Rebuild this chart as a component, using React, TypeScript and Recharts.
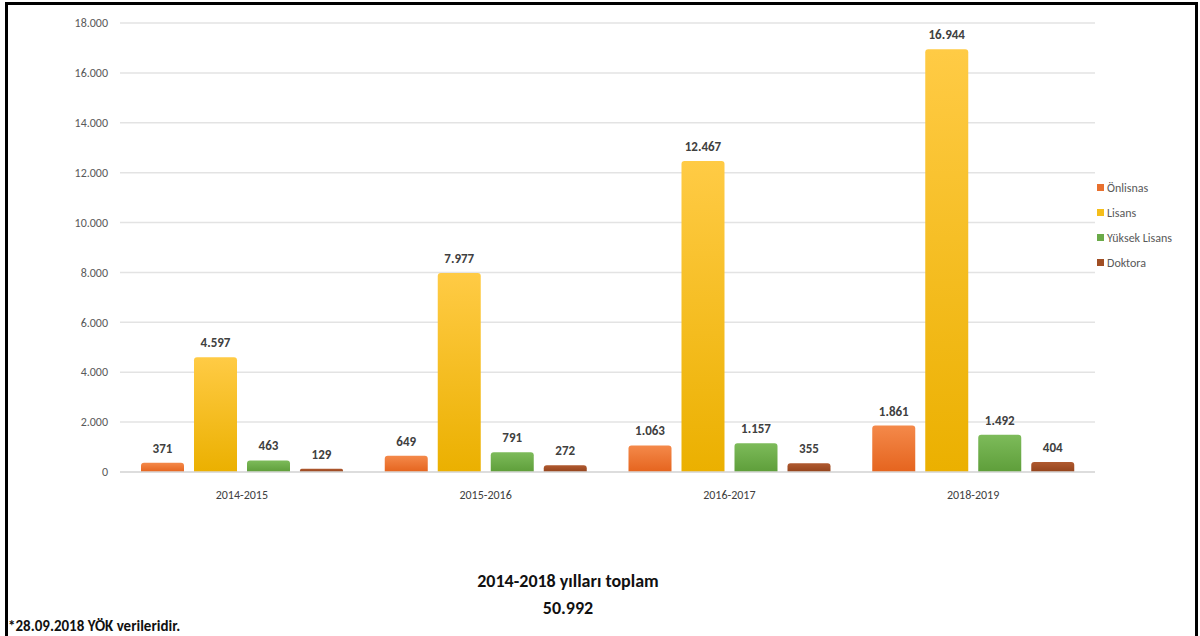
import React from "react";
import { BarChart, Bar, XAxis, YAxis, CartesianGrid, LabelList } from "recharts";

const years = ["2014-2015", "2015-2016", "2016-2017", "2018-2019"];
const onlisans = [371, 649, 1063, 1861];
const lisans = [4597, 7977, 12467, 16944];
const yuksekLisans = [463, 791, 1157, 1492];
const doktora = [129, 272, 355, 404];
const yTicks = [0, 2000, 4000, 6000, 8000, 10000, 12000, 14000, 16000, 18000];

const data = years.map((year, i) => ({
    year,
    onlisans: onlisans[i],
    lisans: lisans[i],
    yuksekLisans: yuksekLisans[i],
    doktora: doktora[i],
}));

const FONT = "Carlito, Lato, 'Open Sans', sans-serif";

const series = [
    { key: "onlisans", name: "Önlisnas", top: "#F4894A", bottom: "#E5641E", swatch: "#E8702E" },
    { key: "lisans", name: "Lisans", top: "#FFCB45", bottom: "#EBB000", swatch: "#F5BE1A" },
    { key: "yuksekLisans", name: "Yüksek Lisans", top: "#7DBB5A", bottom: "#5E9E3A", swatch: "#6AAA48" },
    { key: "doktora", name: "Doktora", top: "#B05A30", bottom: "#94431C", swatch: "#A04E24" },
];

const fmt = (v: any) => Number(v).toLocaleString("de-DE");

export default function App() {
    return (
        <div style={{ position: "absolute", top: 0, left: 0, width: 1200, height: 636, background: "#fff", overflow: "hidden" }}>
            <div
                style={{
                    position: "absolute",
                    left: 5,
                    top: 2,
                    width: 1187,
                    height: 700,
                    borderLeft: "3px solid #000",
                    borderTop: "3px solid #000",
                    borderRight: "3px solid #000",
                }}
            />
            <div style={{ position: "absolute", top: 0, left: 0 }}>
                <BarChart
                    width={1200}
                    height={520}
                    data={data}
                    margin={{ top: 23, right: 105, bottom: 18, left: 0 }}
                    barCategoryGap={21}
                    barGap={10}
                >
                    <defs>
                        {series.map(s => (
                            <linearGradient key={s.key} id={`grad-${s.key}`} x1="0" y1="0" x2="0" y2="1">
                                <stop offset="0%" stopColor={s.top} />
                                <stop offset="100%" stopColor={s.bottom} />
                            </linearGradient>
                        ))}
                    </defs>
                    <CartesianGrid vertical={false} stroke="#e3e3e3" strokeWidth={1.5} />
                    <XAxis
                        dataKey="year"
                        height={30}
                        tickLine={false}
                        axisLine={{ stroke: "#d9d9d9", strokeWidth: 1.5 }}
                        tick={{ fontSize: 12, fill: "#404040", fontFamily: FONT }}
                        tickMargin={12}
                    />
                    <YAxis
                        width={120}
                        domain={[0, 18000]}
                        ticks={yTicks}
                        tickFormatter={fmt}
                        axisLine={false}
                        tickLine={false}
                        tickSize={0}
                        tickMargin={12}
                        tick={{ fontSize: 12, fill: "#595959", fontFamily: FONT }}
                    />
                    {series.map(s => (
                        <Bar
                            key={s.key}
                            dataKey={s.key}
                            name={s.name}
                            fill={`url(#grad-${s.key})`}
                            radius={[3, 3, 0, 0]}
                            isAnimationActive={false}
                        >
                            <LabelList
                                dataKey={s.key}
                                position="top"
                                offset={10}
                                formatter={fmt}
                                style={{ fontSize: 13, fontWeight: "bold", fill: "#404040", fontFamily: FONT }}
                            />
                        </Bar>
                    ))}
                </BarChart>
            </div>
            <div style={{ position: "absolute", top: 175, left: 1097, fontFamily: FONT, fontSize: 12, color: "#595959" }}>
                {series.map(s => (
                    <div key={s.key} style={{ display: "flex", alignItems: "center", height: 25 }}>
                        <span style={{ width: 7, height: 7, background: s.swatch, marginRight: 3 }} />
                        {s.name}
                    </div>
                ))}
            </div>
            <div
                style={{
                    position: "absolute",
                    left: 368,
                    width: 400,
                    top: 568,
                    textAlign: "center",
                    fontFamily: FONT,
                    fontWeight: "bold",
                    fontSize: 18,
                    lineHeight: "27px",
                    color: "#111",
                }}
            >
                <div>2014-2018 yılları toplam</div>
                <div>50.992</div>
            </div>
            <div
                style={{
                    position: "absolute",
                    left: 8,
                    top: 617,
                    fontFamily: FONT,
                    fontWeight: "bold",
                    fontSize: 15,
                    color: "#111",
                }}
            >
                *28.09.2018 YÖK verileridir.
            </div>
        </div>
    );
}
